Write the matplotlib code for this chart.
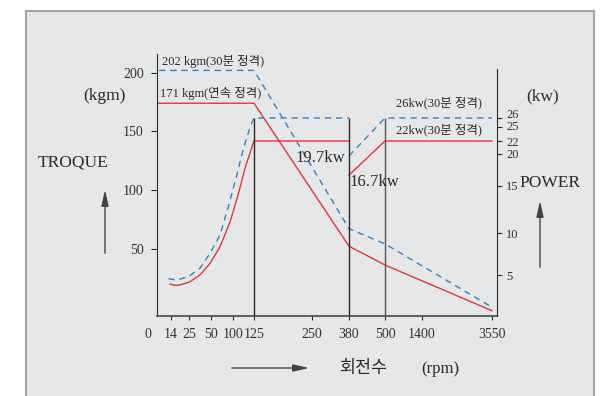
import numpy as np
import matplotlib.pyplot as plt
from matplotlib.patches import Rectangle, FancyArrowPatch
import matplotlib.transforms as mtransforms

plt.rcParams['font.family'] = ['Liberation Serif', 'Noto Sans CJK KR']

# rpm axis ticks
rpm_ticks = [14, 25, 50, 100, 125, 250, 380, 500, 1400, 3550]
rpm_labels = ['14', '25', '50', '100', '125', '250', '380', '500', '1400', '3550']
kgm_ticks = [50, 100, 150, 200]
kw_ticks = [5, 10, 15, 20, 22, 25, 26]

# torque (kgm)
torque_rpm = [0, 125, 380, 500, 3550]
torque_cont = [174, 174, 52, 36, -3]      # 171 kgm continuous
torque_30min = [202, 202, 67, 54, 0]      # 202 kgm 30 min

# power (kw), low-speed range
low_rpm_cont = [13.4, 16.4, 19.5, 26.1, 37.5, 48.9, 70.5, 93.2, 106, 115.5, 125, 380]
low_kw_cont = [3.9, 3.74, 3.78, 4.18, 5.0, 6.39, 8.37, 11.17, 14.04, 18.3, 22, 22]
low_rpm_30 = [12.4, 17.5, 24.6, 37.5, 48.9, 70.5, 88.6, 103.6, 111.9, 120.4, 125, 380]
low_kw_30 = [4.55, 4.39, 4.79, 5.8, 7.58, 9.76, 12.66, 16.25, 20.6, 25, 26, 26]
# power (kw), high-speed range
high_rpm = [380, 500, 3550]
high_kw_cont = [16.7, 22, 22]
high_kw_30 = [19.7, 26, 26]

gear_rpm = [125, 380, 500]

W, H = 608, 396
red = '#e8323c'
blue = '#2f80c8'
ink = '#2a2a2a'

# piecewise scales (the chart's axes are schematic, not linear)
x_anchor = np.array([0, 14, 25, 50, 100, 125, 250, 380, 500, 1400, 3550, 4000])
x_unit = np.array([148, 171, 189, 211, 233, 254, 312, 349, 385, 422, 492, 500])
kw_anchor = np.array([0, 5, 10, 15, 20, 22, 25, 26, 40])
kw_unit = -np.array([316, 275, 233, 186, 154, 141, 127, 118, 54])

def x_fwd(v):
    return np.interp(v, x_anchor, x_unit)

def x_inv(u):
    return np.interp(u, x_unit, x_anchor)

def kw_fwd(v):
    return np.interp(v, kw_anchor, kw_unit)

def kw_inv(u):
    return np.interp(u, kw_unit, kw_anchor)

def fp(x, y):
    return (x / W, 1 - y / H)

fig = plt.figure(figsize=(W / 100, H / 100), dpi=100)
fig.patch.set_facecolor('white')
fig.add_artist(Rectangle(fp(26, 400), (594 - 26) / W, (400 - 11) / H,
                         transform=fig.transFigure, facecolor='#e6e7e8',
                         edgecolor='#a5a5a5', linewidth=1.5, zorder=-5))

ax = fig.add_axes([157 / W, 1 - 316 / H, (497 - 157) / W, (316 - 54) / H])
ax.patch.set_visible(False)
ax.set_xscale('function', functions=(x_fwd, x_inv))
ax.set_xlim(x_inv(157), x_inv(497))
ax.set_ylim(-7.5, 216)

ax2 = ax.twinx()
ax2.patch.set_visible(False)
ax2.set_yscale('function', functions=(kw_fwd, kw_inv))
ax2.set_ylim(0, 40)

# torque
ax.plot(torque_rpm, torque_cont, color=red, lw=1)
ax.plot(torque_rpm, torque_30min, color=blue, lw=1, ls=(0, (4.5, 3.5)))

# power
ax2.plot(low_rpm_cont, low_kw_cont, color=red, lw=1)
ax2.plot(low_rpm_30, low_kw_30, color=blue, lw=1, ls=(0, (4.5, 3.5)))
ax2.plot(high_rpm, high_kw_cont, color=red, lw=1)
ax2.plot(high_rpm, high_kw_30, color=blue, lw=1, ls=(0, (4.5, 3.5)))

ax2.vlines(gear_rpm, 0, 26, colors=[ink, ink, '#555555'], lw=1)

# spines / ticks
for s in ['top', 'right']:
    ax.spines[s].set_visible(False)
for s in ['top', 'left', 'bottom']:
    ax2.spines[s].set_visible(False)
ax.spines['left'].set_color(ink)
ax.spines['bottom'].set_color('#555555')
ax.spines['bottom'].set_linewidth(1.3)
ax2.spines['right'].set_color(ink)
ax2.spines['right'].set_bounds(0, kw_inv(-69))

ax.set_xticks(rpm_ticks, rpm_labels)
ax.xaxis.set_minor_locator(plt.NullLocator())
ax.set_yticks(kgm_ticks)
ax2.set_yticks(kw_ticks)
ax2.yaxis.set_minor_locator(plt.NullLocator())
ax.tick_params(axis='x', direction='out', length=3, width=0.8, color=ink,
               labelsize=10, pad=6, labelcolor='#333333')
ax.tick_params(axis='y', direction='out', length=4.5, width=0.8, color=ink,
               labelsize=10, pad=5, labelcolor='#333333')
ax2.tick_params(axis='y', direction='out', length=3.5, width=0.8, color=ink,
                labelsize=9, pad=3, labelcolor='#333333')

# the tightly stacked kw labels are nudged apart, as in the original
nudge = {26: 4, 25: 1, 22: -1}
fig.canvas.draw()
for tick in ax2.yaxis.get_major_ticks():
    d = nudge.get(int(round(tick.get_loc())), 0)
    if d:
        lab = tick.label2
        lab.set_transform(lab.get_transform() +
                          mtransforms.ScaledTranslation(0, d / 100, fig.dpi_scale_trans))

trans = mtransforms.blended_transform_factory(ax.transData, ax.transAxes)
ax.text(0, -0.072, '0', transform=trans, ha='center', va='center',
        fontsize=10, color='#333333', clip_on=False)

# labels
def ftext(x, y, s, size, **kw):
    fig.text(x / W, 1 - y / H, s, fontsize=size, color='#2a2a2a', **kw)

ftext(162, 61, '202 kgm(30분 정격)', 9, va='center')
ftext(160, 93, '171 kgm(연속 정격)', 9, va='center')
ftext(83, 96, '(kgm)', 12.5, va='center')
ftext(38, 162, 'TROQUE', 12.5, va='center')
ftext(295, 158, '19.7kw', 12, va='center')
ftext(349, 182, '16.7kw', 12, va='center')
ftext(396, 103, '26kw(30분 정격)', 9, va='center')
ftext(396, 130, '22kw(30분 정격)', 9, va='center')
ftext(526, 96, '(kw)', 12.5, va='center')
ftext(519, 183, 'POWER', 12.5, va='center')
ftext(339, 369, '회전수', 12.5, va='center')
ftext(421, 369, '(rpm)', 12, va='center')

for a, b in [((105, 256), (105, 187)), ((540, 270), (540, 198)), ((229, 368), (312, 368))]:
    fig.add_artist(FancyArrowPatch(fp(*a), fp(*b), transform=fig.transFigure,
                                   arrowstyle='-|>,head_length=0.8,head_width=0.18',
                                   mutation_scale=12, color='#444444', lw=1))

fig.savefig('out.png', dpi=100)
